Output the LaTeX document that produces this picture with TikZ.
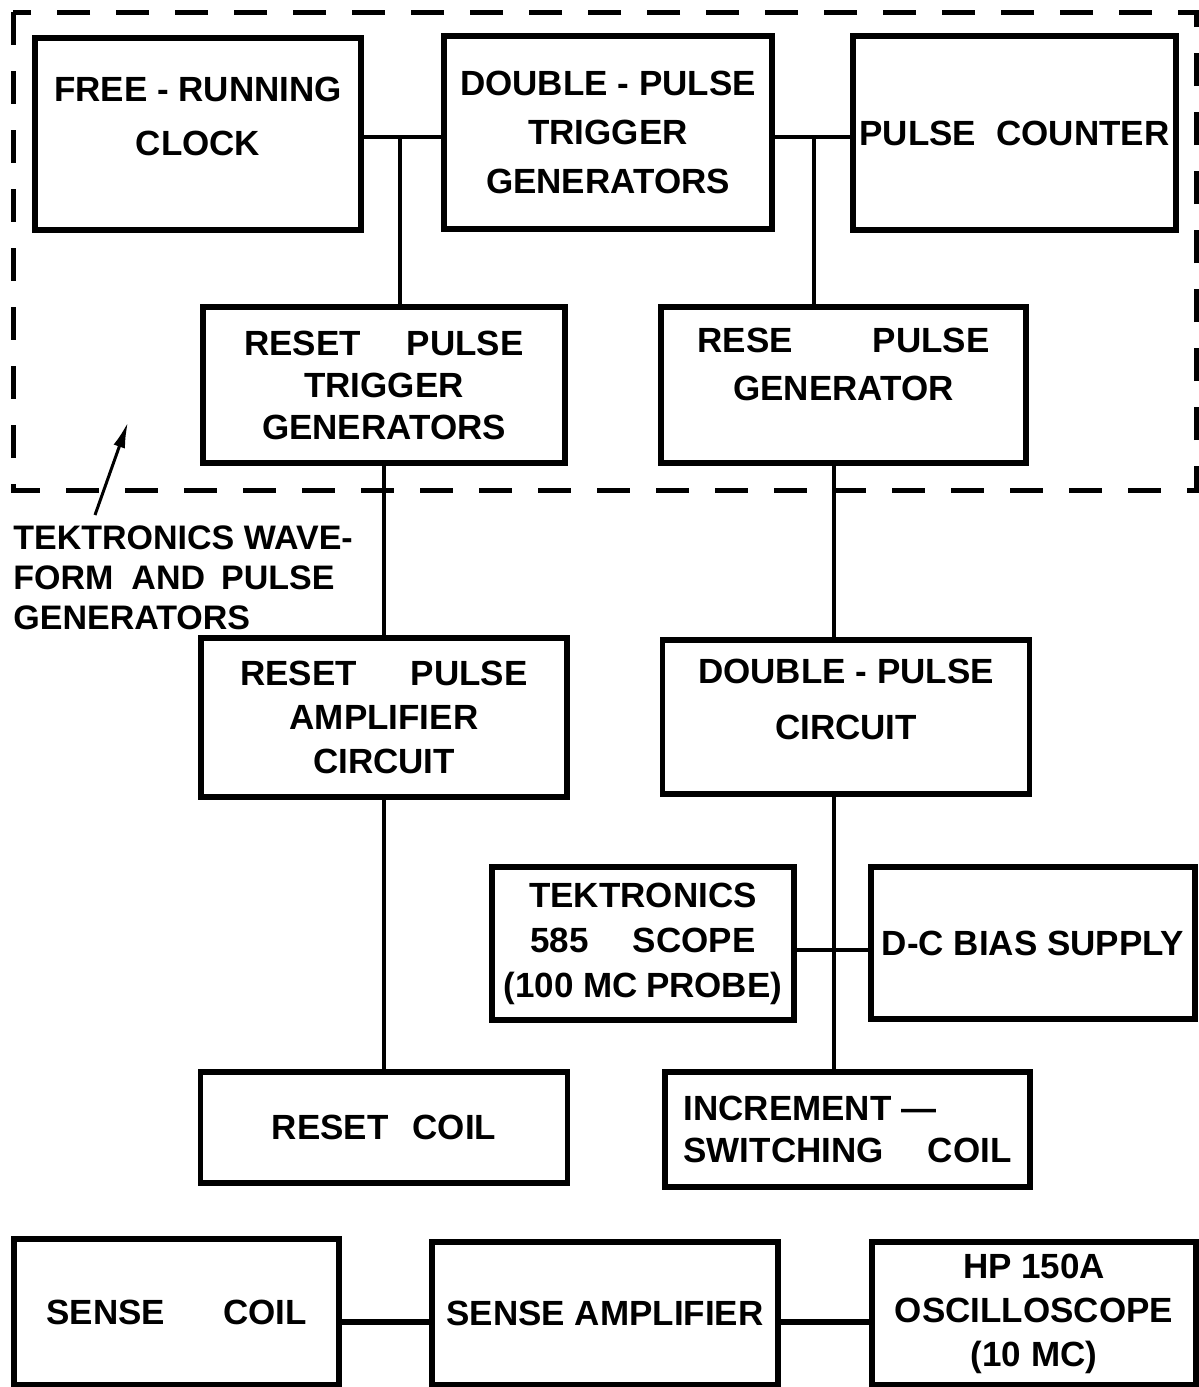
\documentclass[tikz,border=0pt]{standalone}
\usepackage{fontspec}
\setmainfont{Liberation Sans}
\usetikzlibrary{arrows.meta}

\begin{document}
\begin{tikzpicture}[x=0.5pt, y=-0.5pt,
    blk/.style={draw, line width=2.6pt, align=center, inner sep=0pt,
        font=\bfseries\fontsize{17.5}{21}\selectfont},
    wire/.style={line width=2pt},
    bus/.style={line width=3.2pt},
    fence/.style={line width=2.5pt, dash pattern=on 16.5pt off 13pt},
    lbl/.style={inner sep=0pt, align=left,
        font=\bfseries\fontsize{17}{20}\selectfont}]

\useasboundingbox (0,0) rectangle (1199,1387);

% Generadores Tektronix
\draw[fence] (13,12) rectangle (1196,490);

% Bloques
\node[blk, minimum width=163pt, minimum height=96pt, text depth=18pt]
    (clock) at (198,134) {FREE - RUNNING\\[6pt]CLOCK};
\node[blk, minimum width=164pt, minimum height=96.5pt]
    (dptg) at (608,132.5) {DOUBLE - PULSE\\[3.5pt]TRIGGER\\[3.5pt]GENERATORS};
\node[blk, minimum width=161.5pt, minimum height=97pt]
    (counter) at (1014.5,133) {PULSE\hspace{10pt}COUNTER};
\node[blk, minimum width=181pt, minimum height=78pt]
    (rptg) at (384,385) {RESET\hspace{23pt}PULSE\\TRIGGER\\GENERATORS};
\node[blk, minimum width=182.5pt, minimum height=78pt, text depth=21pt]
    (rpg) at (843.5,385) {RESE\hspace{40pt}PULSE\\[3pt]GENERATOR};
\node[blk, minimum width=183pt, minimum height=79.5pt]
    (rpac) at (384,717.5) {RESET\hspace{27pt}PULSE\\[1pt]AMPLIFIER\\[1pt]CIRCUIT};
\node[blk, minimum width=183.5pt, minimum height=77pt, text depth=17.5pt]
    (dpc) at (846,717) {DOUBLE - PULSE\\[7pt]CIRCUIT};
\node[blk, minimum width=151pt, minimum height=76.5pt]
    (scope) at (643,943.5) {TEKTRONICS\\[1.5pt]585\hspace{22pt}SCOPE\\[1.5pt](100 MC\hspace{4pt}PROBE)};
\node[blk, minimum width=162pt, minimum height=76pt]
    (bias) at (1033,943) {D-C BIAS SUPPLY};
\node[blk, minimum width=183.5pt, minimum height=55.5pt]
    (rcoil) at (384,1127.5) {RESET\hspace{12pt}COIL};
\node[blk, align=left, minimum width=182.5pt, minimum height=57.5pt]
    (icoil) at (847.5,1129.5) {INCREMENT —\\SWITCHING\hspace{22pt}COIL};
\node[blk, minimum width=162.5pt, minimum height=73pt]
    (scoil) at (176.5,1312) {SENSE\hspace{29pt}COIL};
\node[blk, minimum width=173pt, minimum height=71.5pt]
    (samp) at (605,1313.5) {SENSE AMPLIFIER};
\node[blk, minimum width=162pt, minimum height=71.5pt]
    (hp) at (1034,1313.5) {HP 150A\\[1pt]OSCILLOSCOPE\\[1pt](10 MC)};

% Etiqueta
\node[lbl, anchor=north west] (tekgen) at (13,525)
    {TEKTRONICS WAVE-\\FORM\hspace{9pt}AND\hspace{8pt}PULSE\\GENERATORS};
\coordinate (tip) at (128,422);
\draw[line width=1.5pt, -{Latex[length=13pt,width=6pt]}]
    ([xshift=41pt,yshift=5pt]tekgen.north west) -- (tip);

% Conexiones
\coordinate (j1) at (400,137);
\coordinate (j2) at (814,137);
\coordinate (j3) at (834,950);
\coordinate (jb) at (0,1322);

\draw[wire] (clock.east |- j1) -- (dptg.west |- j1);
\draw[wire] (j1) -- (j1 |- rptg.north);
\draw[wire] (dptg.east |- j2) -- (counter.west |- j2);
\draw[wire] (j2) -- (j2 |- rpg.north);
\draw[wire] (rptg.south) -- (rpac.north);
\draw[wire] (rpac.south) -- (rcoil.north);
\draw[wire] (j3 |- rpg.south) -- (j3 |- dpc.north);
\draw[wire] (j3 |- dpc.south) -- (j3 |- icoil.north);
\draw[wire] (scope.east |- j3) -- (bias.west |- j3);
\draw[bus] (scoil.east |- jb) -- (samp.west |- jb);
\draw[bus] (samp.east |- jb) -- (hp.west |- jb);

\end{tikzpicture}
\end{document}
